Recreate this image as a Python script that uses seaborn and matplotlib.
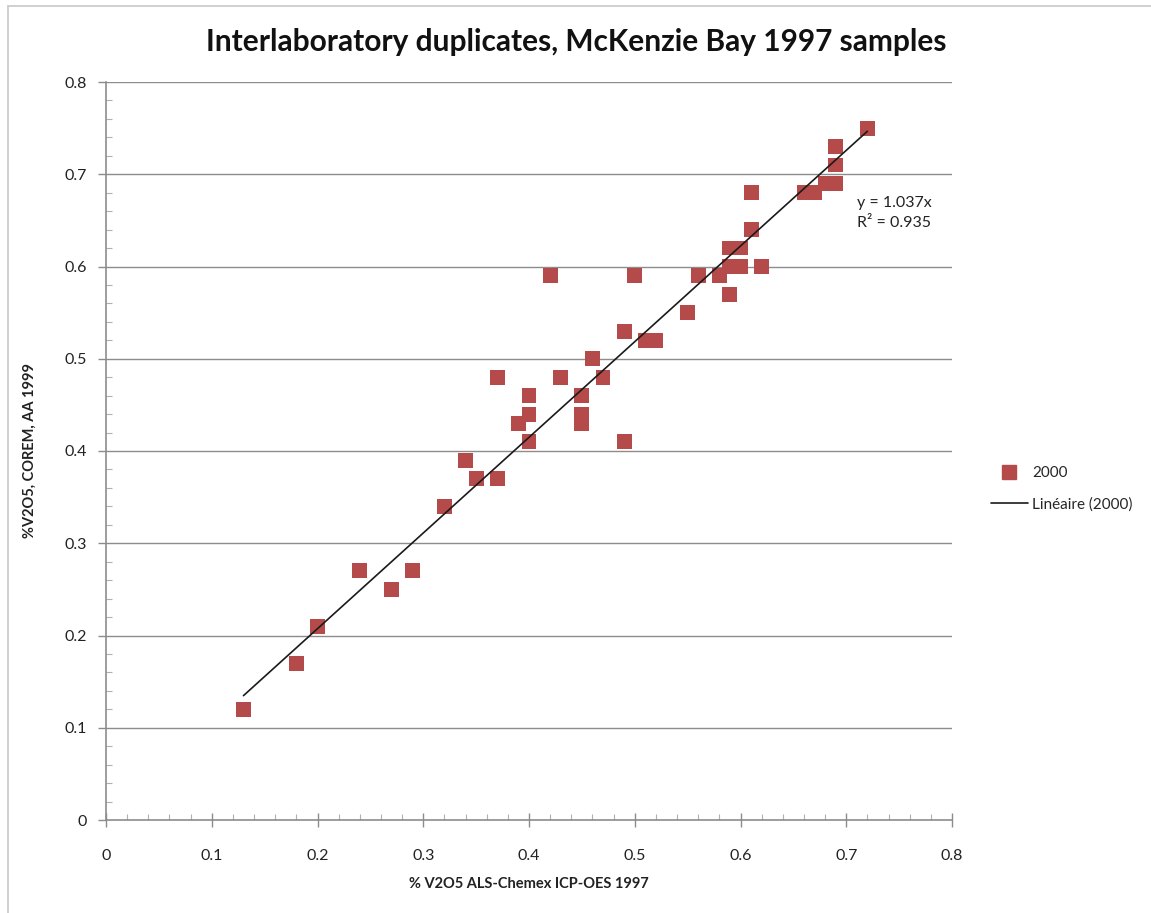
import numpy as np
import pandas as pd
import matplotlib
matplotlib.use("Agg")
import matplotlib.pyplot as plt
from matplotlib.lines import Line2D
from matplotlib.ticker import MultipleLocator
import seaborn as sns

# ---- data ----
x_als_1997 = [0.13, 0.18, 0.20, 0.24, 0.27, 0.29, 0.32, 0.34, 0.35, 0.37,
              0.37, 0.39, 0.40, 0.40, 0.40, 0.42, 0.43, 0.45, 0.45, 0.45,
              0.46, 0.47, 0.49, 0.49, 0.50, 0.51, 0.52, 0.55, 0.56, 0.58,
              0.59, 0.59, 0.60, 0.59, 0.60, 0.62, 0.61, 0.61, 0.66, 0.67,
              0.68, 0.69, 0.69, 0.69, 0.72]
y_corem_1999 = [0.12, 0.17, 0.21, 0.27, 0.25, 0.27, 0.34, 0.39, 0.37, 0.37,
                0.48, 0.43, 0.46, 0.44, 0.41, 0.59, 0.48, 0.46, 0.44, 0.43,
                0.50, 0.48, 0.53, 0.41, 0.59, 0.52, 0.52, 0.55, 0.59, 0.59,
                0.57, 0.62, 0.62, 0.60, 0.60, 0.60, 0.64, 0.68, 0.68, 0.68,
                0.69, 0.69, 0.71, 0.73, 0.75]
series_name = "2000"
trend_name = "Linéaire (2000)"
trend_slope = 1.037
equation_text = "y = 1.037x"
r2_text = "R² = 0.935"
title_text = "Interlaboratory duplicates, McKenzie Bay 1997 samples"
xlabel_text = "% V2O5 ALS-Chemex ICP-OES 1997"
ylabel_text = "%V2O5, COREM, AA 1999"
tick_values = [0, 0.1, 0.2, 0.3, 0.4, 0.5, 0.6, 0.7, 0.8]
tick_labels = ["0", "0.1", "0.2", "0.3", "0.4", "0.5", "0.6", "0.7", "0.8"]

df = pd.DataFrame({"x": x_als_1997, "y": y_corem_1999})

sns.set_theme(style="white")
plt.rcParams["font.family"] = ["Lato", "DejaVu Sans"]

W, H = 1151, 913
fig = plt.figure(figsize=(W / 100, H / 100), dpi=100)
ax = fig.add_axes([106 / W, 1 - 820 / H, (952 - 106) / W, (820 - 82) / H])

MARK = "#B54A4B"
GRID = "#8C8C8C"

ax.set_xlim(0, 0.8)
ax.set_ylim(0, 0.8)
ax.set_yticks(tick_values)
ax.set_yticklabels(tick_labels)
ax.set_xticks(tick_values)
ax.set_xticklabels(tick_labels)
ax.xaxis.set_minor_locator(MultipleLocator(0.02))
ax.yaxis.set_minor_locator(MultipleLocator(0.02))
for yv in tick_values[1:]:
    ax.axhline(yv, color=GRID, lw=1.0, zorder=0)

sns.scatterplot(data=df, x="x", y="y", ax=ax, marker="s", s=115,
                color=MARK, edgecolor="none", linewidth=0, zorder=3,
                legend=False)

xs = np.array([min(x_als_1997), max(x_als_1997)])
ax.plot(xs, trend_slope * xs, color="#1a1a1a", lw=1.2, zorder=4)

ax.text(0.710, 0.669, equation_text, fontsize=11.5, ha="left", va="center",
        color="#222222")
ax.text(0.710, 0.647, r2_text, fontsize=11.5, ha="left", va="center",
        color="#222222")

for side in ["top", "right"]:
    ax.spines[side].set_visible(False)
for side in ["left", "bottom"]:
    ax.spines[side].set_color(GRID)
    ax.spines[side].set_linewidth(1.2)

ax.tick_params(axis="both", which="major", length=6, width=1, color=GRID,
               labelsize=11.5, colors="#222222", direction="out", pad=8)
ax.tick_params(axis="x", which="major", direction="inout", length=10, pad=16)
ax.tick_params(axis="both", which="minor", length=4, width=0.8, color="#b0b0b0",
               direction="in")
ax.tick_params(axis="both", which="both", bottom=True, left=True)
for lbl in ax.get_xticklabels() + ax.get_yticklabels():
    lbl.set_color("#222222")

ax.set_xlabel("")
ax.set_ylabel("")
fig.text(529 / W, 1 - 884 / H, xlabel_text, ha="center", va="center",
         fontsize=10.5, fontweight="bold", color="#222222")
fig.text(30 / W, 1 - 451 / H, ylabel_text, ha="center", va="center",
         rotation=90, fontsize=10.5, fontweight="bold", color="#222222")
fig.text(576 / W, 1 - 42 / H, title_text, ha="center", va="center",
         fontsize=21.5, fontweight="bold", color="#111111")

handles = [
    Line2D([], [], marker="s", color=MARK, ls="none", markersize=10),
    Line2D([], [], color="#1a1a1a", lw=1.2),
]
fig.legend(handles, [series_name, trend_name], loc="center left",
           bbox_to_anchor=(985 / W, 1 - 489 / H), frameon=False,
           fontsize=11, handlelength=2.4, handletextpad=0.3,
           labelspacing=1.1, borderaxespad=0)

# chart frame (faint left and top lines)
fig.add_artist(Line2D([8 / W, 8 / W], [0, 1 - 6 / H], color="#c8c8c8",
                      lw=1.2, transform=fig.transFigure))
fig.add_artist(Line2D([8 / W, 1], [1 - 6 / H, 1 - 6 / H], color="#c8c8c8",
                      lw=1.2, transform=fig.transFigure))

fig.savefig("out.png", dpi=100)
